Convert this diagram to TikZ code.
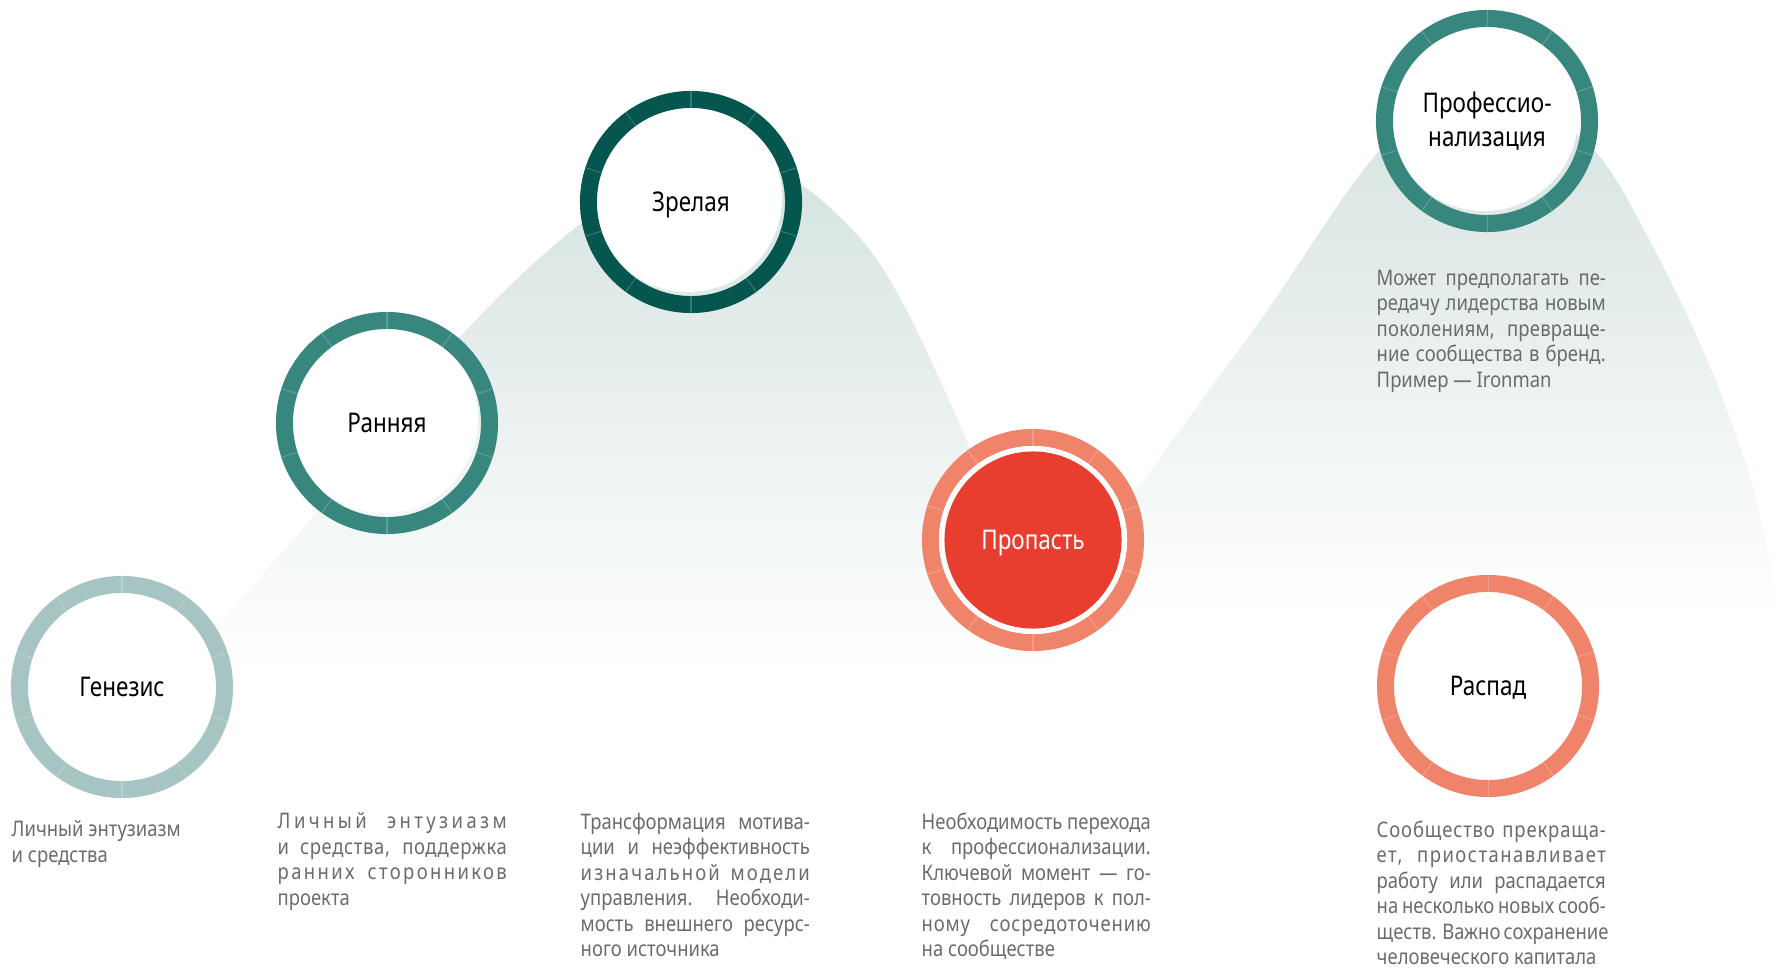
\documentclass[tikz,border=0pt]{standalone}
\usepackage{fontspec}
\setmainfont[FakeStretch=0.83]{Noto Sans}
\newfontfamily\notefont[FakeStretch=0.86]{Noto Sans}
\usepackage{tikz}

\definecolor{genesisring}{HTML}{A6C4C2}
\definecolor{tealring}{HTML}{38877F}
\definecolor{darkring}{HTML}{04564F}
\definecolor{salmonring}{HTML}{F0846A}
\definecolor{abyssred}{HTML}{E73E30}
\definecolor{notegrey}{HTML}{6B6B6B}
\definecolor{hilltop}{HTML}{D4E2E0}

\newcommand{\fl}[2][0]{\makebox[2.29cm][s]{\addfontfeature{LetterSpace=#1}#2}}

\begin{document}
\begin{tikzpicture}[x=0.01cm, y=-0.01cm,
    stage/.style={align=center, inner sep=0pt, font=\fontsize{7.7}{9.6}\selectfont},
    flat/.style={text height=5.5pt, text depth=0pt},
    note/.style={anchor=north west, align=left, inner sep=0pt, text=notegrey, font=\notefont\fontsize{6.1}{7.25}\selectfont},
    hill/.style={top color=hilltop, bottom color=white}]
    \useasboundingbox (0,0) rectangle (1786,967);
    \def\rin{0.94cm}
    \def\rmid{1.025cm}
    \def\stagering#1#2{
        \fill[white] ([shift={(-3,-4)}]#1) circle (\rin);
        \draw[#2, line width=0.17cm] (#1) circle (\rmid);
        \foreach \a in {18,54,...,342}
            \draw[#2!80!white, line width=0.3pt] (#1) ++(\a:0.94cm) -- ++(\a:0.17cm);
    }
    \coordinate (genesis) at (122,687);
    \coordinate (early) at (387,423);
    \coordinate (mature) at (691,202);
    \coordinate (abyss) at (1033,540);
    \coordinate (prof) at (1487,121);
    \coordinate (decay) at (1488,686);
    \shade[hill] plot[smooth] coordinates {(185,671) (214,629) (318,511) (461,336) (582,223) (715,150) (800,184) (866,245) (911,319) (968,444) (1012,560) (1062,671)} -- cycle;
    \shade[hill] plot[smooth] coordinates {(1065,615) (1136,492) (1262,318) (1382,148) (1490,82) (1592,148) (1652,245) (1709,364) (1754,490) (1781,615)} -- cycle;
    \stagering{genesis}{genesisring}
    \stagering{early}{tealring}
    \stagering{mature}{darkring}
    \stagering{abyss}{salmonring}
    \stagering{prof}{tealring}
    \stagering{decay}{salmonring}
    \fill[white] (abyss) circle (\rin);
    \fill[abyssred] (abyss) circle (0.885cm);
    \node[stage, flat] (genesis-label) at (genesis) {Генезис};
    \node[stage, flat] (early-label) at (early) {Ранняя};
    \node[stage, flat] (mature-label) at (mature) {Зрелая};
    \node[stage, flat, text=white] (abyss-label) at (abyss) {Пропасть};
    \node[stage] (prof-label) at (prof) {Профессио-\\нализация};
    \node[stage, flat] (decay-label) at (decay) {Распад};
    \node[note] (genesis-note) at (11,820) {Личный энтузиазм\\и средства};
    \node[note] (early-note) at (277,812) {\fl[16]{Личный энтузиазм}\\\fl[3]{и средства, поддержка}\\\fl[11]{ранних сторонников}\\проекта};
    \node[note] (mature-note) at (580,812) {\fl{Трансформация мотива-}\\\fl{ции и неэффективность}\\\fl[10]{изначальной модели}\\\fl{управления. Необходи-}\\\fl{мость внешнего ресурс-}\\ного источника};
    \node[note] (abyss-note) at (921,812) {\fl{Необходимость перехода}\\\fl{к профессионализации.}\\\fl{Ключевой момент — го-}\\\fl{товность лидеров к пол-}\\\fl[4]{ному сосредоточению}\\на сообществе};
    \node[note] (prof-note) at (1376,269) {\fl{Может предполагать пе-}\\\fl{редачу лидерства новым}\\\fl[1]{поколениям, превраще-}\\\fl{ние сообщества в бренд.}\\Пример — Ironman};
    \node[note] (decay-note) at (1376,820) {\fl[4]{Сообщество прекраща-}\\\fl[7]{ет, приостанавливает}\\\fl{работу или распадается}\\\fl{на несколько новых сооб-}\\\fl{ществ. Важно сохранение}\\человеческого капитала};
\end{tikzpicture}
\end{document}
